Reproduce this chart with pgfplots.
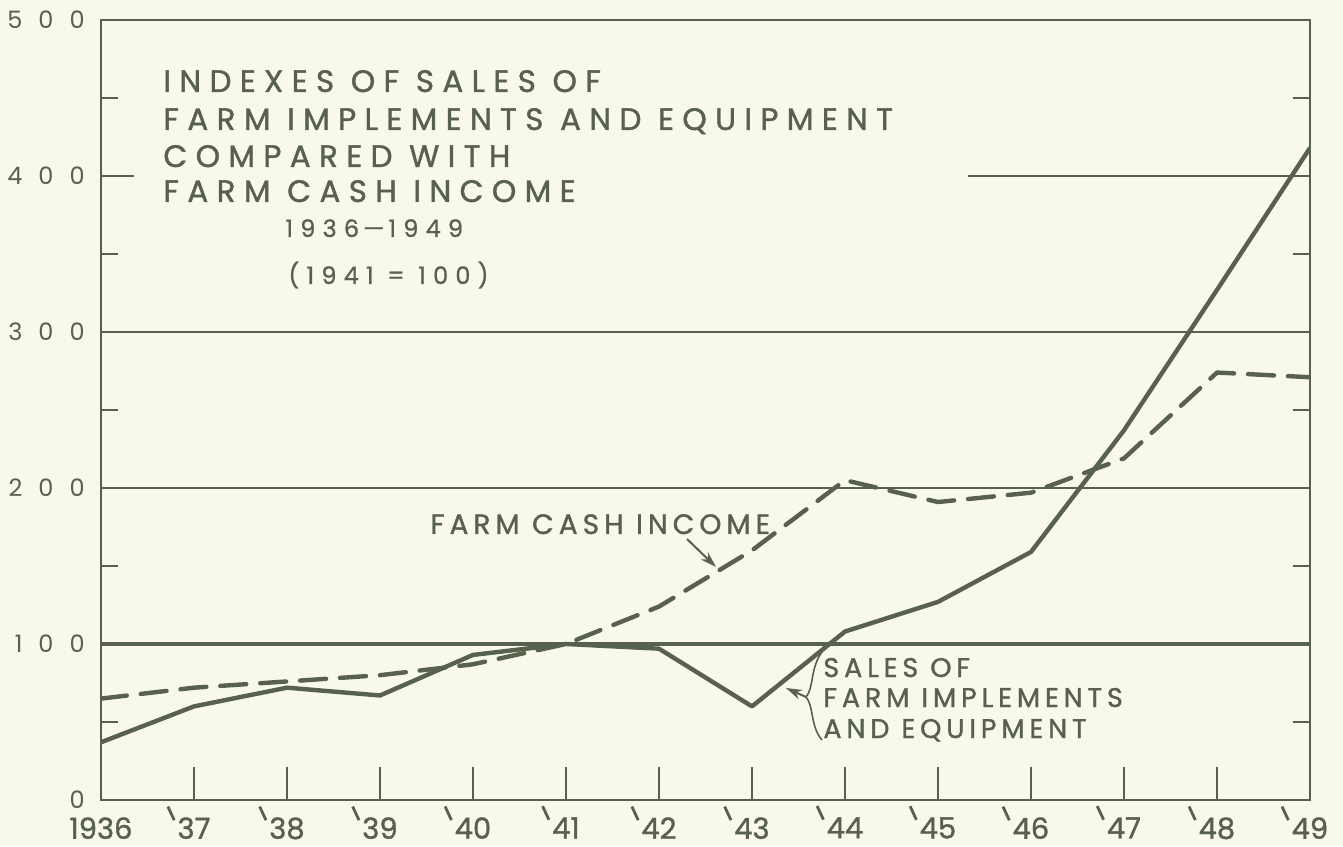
\documentclass[border=0pt]{standalone}
\usepackage{pgfplots}
\pgfplotsset{compat=1.18}
\usepackage{fontspec}
\setmainfont{Poppins}
\usetikzlibrary{arrows.meta}
\definecolor{ink}{RGB}{88,96,78}
\definecolor{bg}{RGB}{248,249,234}
\newfontfamily\titlefont[LetterSpace=27,FakeBold=1.2]{Poppins}
\newfontfamily\subfont[LetterSpace=30,FakeBold=0.8]{Poppins}
\newfontfamily\annfont[LetterSpace=18,FakeBold=1.2]{Poppins}
\newfontfamily\xfont[FakeBold=1.2]{Poppins}
\newcommand\yr[1]{\smash{\llap{\raisebox{9pt}{\rotatebox{25}{\rule{1.4pt}{7.5pt}}}\hspace{1pt}}}#1}
\newcommand\ysp[3]{#1\hspace{8pt}#2\hspace{8pt}#3}
\begin{document}
\begin{tikzpicture}
\begin{scope}[x=0.5pt,y=-0.5pt,shift={(-50.5pt,400pt)}]
\fill[bg] (0,0) rectangle (1343,846);
\end{scope}
\begin{axis}[
  at={(0pt,0pt)}, anchor=south west,
  scale only axis, width=604.5pt, height=390pt,
  xmin=1936, xmax=1949, ymin=0, ymax=500,
  axis line style={ink, line width=1pt},
  every tick/.style={ink, line width=1pt},
  tick align=inside,
  major tick length=16.5pt,
  minor tick length=8.5pt,
  xtick={1936,...,1949},
  xticklabels={1936,\yr{37},\yr{38},\yr{39},\yr{40},\yr{41},\yr{42},\yr{43},\yr{44},\yr{45},\yr{46},\yr{47},\yr{48},\yr{49}},
  xtick pos=left,
  xticklabel style={font=\xfont\fontsize{14.5}{14.5}\selectfont, text=ink, anchor=north, inner sep=0pt, yshift=-8.5pt},
  ytick={0,100,...,500},
  yticklabels={0,\ysp{1}{0}{0},\ysp{2}{0}{0},\ysp{3}{0}{0},\ysp{4}{0}{0},\ysp{5}{0}{0}},
  minor ytick={50,150,...,450},
  ytick pos=both,
  yticklabel style={font=\fontsize{12}{12}\selectfont, text=ink, anchor=east, inner sep=0pt, xshift=-8pt},
]
\addplot[ink, line width=1pt] coordinates {(1936,200) (1949,200)};
\addplot[ink, line width=1pt] coordinates {(1936,300) (1949,300)};
\addplot[ink, line width=1pt] coordinates {(1945.32,400) (1949,400)};
\addplot[ink, line width=1.6pt] coordinates {(1936,100) (1949,100)};
% Sales of farm implements and equipment
\addplot[ink, line width=2.2pt, line join=round] coordinates {
 (1936,37) (1937,60) (1938,72) (1939,67) (1940,93) (1941,100) (1942,97)
 (1943,60) (1944,108) (1945,127) (1946,159) (1947,237) (1948,327) (1949,418)};
% Farm cash income
\addplot[ink, line width=2.2pt, line join=round, line cap=round, dash pattern=on 13pt off 7pt] coordinates {
 (1936,65) (1937,72) (1938,76) (1939,80) (1940,87) (1941,100) (1942,124)
 (1943,160) (1944,205) (1945,191) (1946,197) (1947,219) (1948,274) (1949,271)};
\end{axis}
\begin{scope}[x=0.5pt,y=-0.5pt,shift={(-50.5pt,400pt)}]
\begin{scope}[every node/.style={anchor=base west, inner sep=0pt, text=ink}]
\node[font=\titlefont\fontsize{15.5}{15.5}\selectfont] at (163,92) {INDEXES OF SALES OF};
\node[font=\titlefont\fontsize{15.5}{15.5}\selectfont] at (163,130) {FARM IMPLEMENTS AND EQUIPMENT};
\node[font=\titlefont\fontsize{15.5}{15.5}\selectfont] at (163,167) {COMPARED WITH};
\node[font=\titlefont\fontsize{15.5}{15.5}\selectfont] at (163,202) {FARM CASH INCOME};
\node[font=\subfont\fontsize{12}{12}\selectfont] at (285,237) {1936\,—\,1949};
\node[font=\subfont\fontsize{12}{12}\selectfont] at (288,284) {(1941 = 100)};
\node[font=\annfont\fontsize{14}{14}\selectfont] at (430,534) {FARM CASH INCOME};
\node[font=\annfont\fontsize{13.5}{13.5}\selectfont] at (823,677) {SALES OF};
\node[font=\annfont\fontsize{13.5}{13.5}\selectfont] at (823,707) {FARM IMPLEMENTS};
\node[font=\annfont\fontsize{13.5}{13.5}\selectfont] at (823,738) {AND EQUIPMENT};
\end{scope}
\draw[ink, line width=1pt, -{Stealth[length=8pt,width=5pt]}] (687,539) -- (716,567);
\draw[ink, line width=0.8pt] (822,652) .. controls (810,668) and (814,688) .. (806,697)
   .. controls (814,706) and (810,726) .. (822,740);
\draw[ink, line width=1pt, -{Stealth[length=8pt,width=5pt]}] (806,697) -- (786,688);
\end{scope}
\end{tikzpicture}
\end{document}
